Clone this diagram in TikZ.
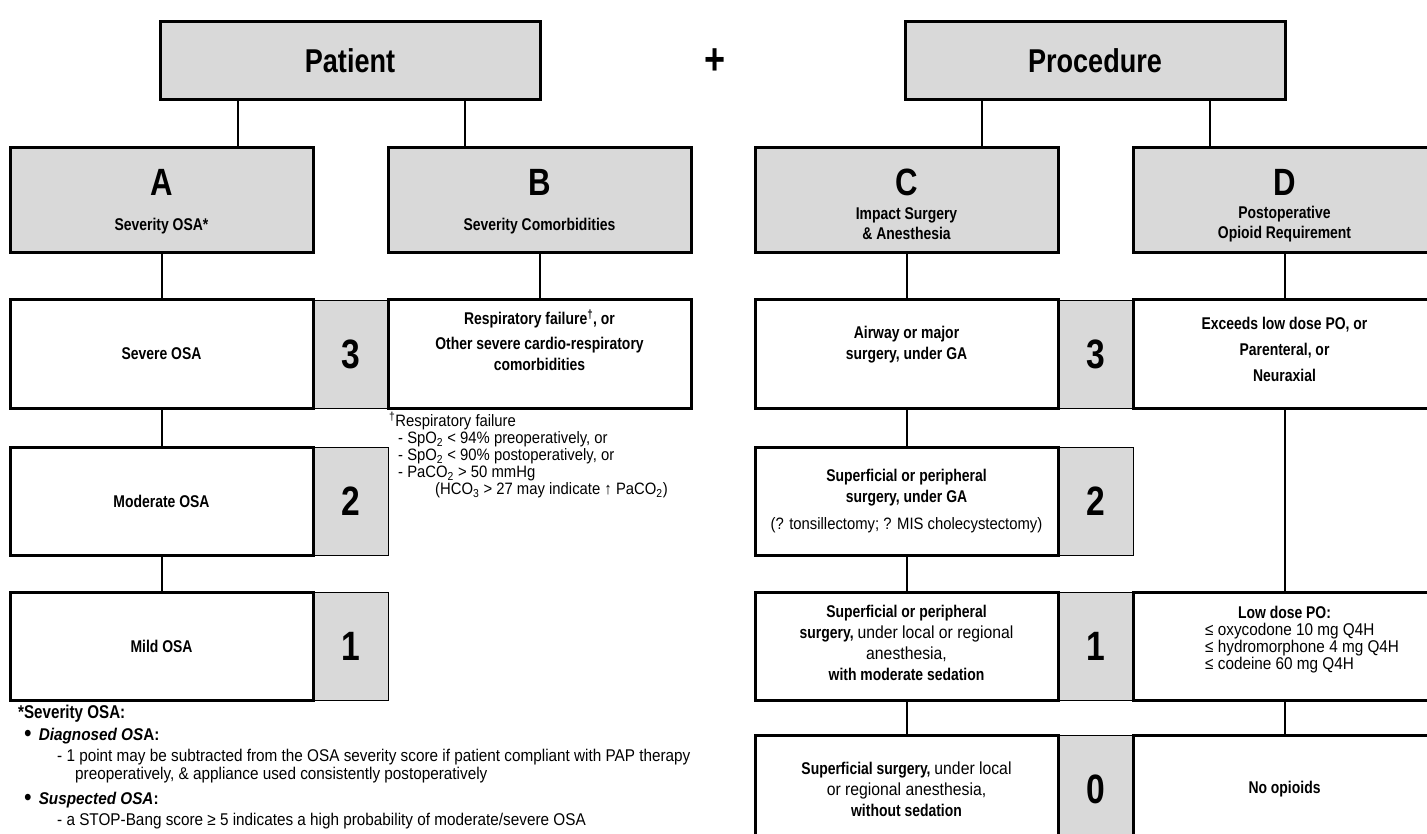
\documentclass[tikz,border=0pt]{standalone}
\usepackage{fontspec}
\setmainfont{Liberation Sans}[FakeStretch=0.82]
\newfontfamily\notefont{Liberation Sans}[FakeStretch=0.9]
\usetikzlibrary{calc}

\colorlet{boxgray}{black!15}
\newcommand{\regtext}[1]{{\notefont\mdseries\fontsize{17.5}{21}\selectfont #1}}
\newcommand{\bigdot}{\raisebox{-1.5pt}{\fontsize{24}{24}\selectfont •}}

\tikzset{
  topbox/.style={draw, line width=3pt, fill=boxgray, outer sep=0pt, anchor=north west,
    minimum width=380pt, minimum height=78pt, font=\bfseries\fontsize{33}{33}\selectfont},
  hdrbox/.style={draw, line width=3pt, fill=boxgray, outer sep=0pt, anchor=north west,
    minimum width=303pt, minimum height=105pt},
  cellbox/.style={draw, line width=3pt, fill=white, outer sep=0pt, anchor=north west,
    minimum width=303pt, minimum height=108pt, inner sep=0pt, align=center,
    font=\bfseries\fontsize{17}{21}\selectfont},
  scorebox/.style={draw, line width=0.8pt, fill=boxgray, outer sep=0pt, anchor=north west,
    minimum width=75pt, minimum height=108pt, inner sep=0pt,
    font=\bfseries\fontsize{41}{41}\selectfont},
  letter/.style={inner sep=0pt, font=\bfseries\fontsize{38}{38}\selectfont},
  hdrtext/.style={inner sep=0pt, align=center, font=\bfseries\fontsize{17}{20}\selectfont},
  note/.style={anchor=base west, inner sep=0pt, font=\notefont\fontsize{17}{19}\selectfont},
  link/.style={line width=2pt},
}

\begin{document}
\begin{tikzpicture}[x=1pt, y=-1pt]
  % --- Lienzo ---
  \useasboundingbox (0,0) rectangle (1427,834);
  \fill[white] (0,0) rectangle (1427,834);

  % --- Cabeceras superiores ---
  \node[topbox] (patient) at (160,22) {Patient};
  \node[font=\bfseries\fontsize{44}{44}\selectfont, inner sep=0pt] (plus) at (715,62) {+};
  \node[topbox] (procedure) at (905,22) {Procedure};

  % --- Cabeceras A, B, C, D ---
  \node[hdrbox] (hdrA) at (10,148) {};
  \node[hdrbox] (hdrB) at (388,148) {};
  \node[hdrbox] (hdrC) at (755,148) {};
  \node[hdrbox] (hdrD) at (1133,148) {};
  \node[letter] (letA) at (161.5,182) {A};
  \node[letter] (letB) at (539.5,182) {B};
  \node[letter] (letC) at (906.5,182) {C};
  \node[letter] (letD) at (1284.5,182) {D};
  \node[hdrtext] (subA) at (161.5,226) {Severity OSA*};
  \node[hdrtext] (subB) at (539.5,226) {Severity Comorbidities};
  \node[hdrtext] (subC) at (906.5,224) {Impact Surgery\\ \& Anesthesia};
  \node[hdrtext] (subD) at (1284.5,224) {Postoperative\\ Opioid Requirement};

  % Uniones cabecera -> columnas
  \coordinate (pA) at ([xshift=78pt]patient.south west);
  \coordinate (pB) at ([xshift=305pt]patient.south west);
  \coordinate (qC) at ([xshift=77pt]procedure.south west);
  \coordinate (qD) at ([xshift=305pt]procedure.south west);
  \draw[link] (pA) -- (pA |- hdrA.north);
  \draw[link] (pB) -- (pB |- hdrB.north);
  \draw[link] (qC) -- (qC |- hdrC.north);
  \draw[link] (qD) -- (qD |- hdrD.north);

  % --- Puntuaciones (gris, debajo de los bordes gruesos) ---
  \node[scorebox] (sa1) at (313,300) {3};
  \node[scorebox] (sa2) at (313,447) {2};
  \node[scorebox] (sa3) at (313,592) {1};
  \node[scorebox] (sc1) at (1058,300) {3};
  \node[scorebox] (sc2) at (1058,447) {2};
  \node[scorebox] (sc3) at (1058,592) {1};
  \node[scorebox] (sc4) at (1058,735) {0};

  % --- Columna A y B ---
  \node[cellbox] (a1) at (10,300) {Severe OSA};
  \node[cellbox] (a2) at (10,447) {Moderate OSA};
  \node[cellbox] (a3) at (10,592) {Mild OSA};
  \node[cellbox] (b1) at (388,300) {Respiratory failure\textsuperscript{†}, or\\[4pt]
    Other severe cardio-respiratory\\ comorbidities\\[6pt]};

  % --- Columna C y D ---
  \node[cellbox] (c1) at (755,300) {Airway or major\\ surgery, under GA\\[2pt]};
  \node[cellbox] (c2) at (755,447) {Superficial or peripheral\\ surgery, under GA\\[6pt]
    {\notefont\mdseries\fontsize{16.5}{18}\selectfont (? tonsillectomy; ? MIS cholecystectomy)}};
  \node[cellbox] (c3) at (755,592) {Superficial or peripheral\\
    surgery, \regtext{under local or regional}\\ \regtext{anesthesia,}\\ with moderate sedation\\[-14pt]};
  \node[cellbox] (c4) at (755,735) {Superficial surgery, \regtext{under local}\\
    \regtext{or regional anesthesia,}\\ without sedation};
  \node[cellbox] (d1) at (1133,300) {Exceeds low dose PO, or\\[5pt] Parenteral, or\\[5pt] Neuraxial\\[-12pt]};
  \node[cellbox] (d3) at (1133,592) {};
  \node[cellbox] (d4) at (1133,735) {No opioids};
  \node[hdrtext] (d3head) at (1284.5,612) {Low dose PO:};
  \node[anchor=north west, align=left, inner sep=0pt, font=\notefont\fontsize{17}{17}\selectfont]
    (d3list) at (1205,623) {≤ oxycodone 10 mg Q4H\\ ≤ hydromorphone 4 mg Q4H\\ ≤ codeine 60 mg Q4H};

  % --- Conectores verticales ---
  \draw[link] (hdrA) -- (a1);
  \draw[link] (a1) -- (a2);
  \draw[link] (a2) -- (a3);
  \draw[link] (hdrB) -- (b1);
  \draw[link] (hdrC) -- (c1);
  \draw[link] (c1) -- (c2);
  \draw[link] (c2) -- (c3);
  \draw[link] (c3) -- (c4);
  \draw[link] (hdrD) -- (d1);
  \draw[link] (d1) -- (d3);
  \draw[link] (d3) -- (d4);

  % --- Nota de insuficiencia respiratoria ---
  \node[anchor=north west, align=left, inner sep=0pt, font=\notefont\fontsize{16.5}{17}\selectfont]
    (dagnote) at (389,412) {\textsuperscript{†}Respiratory failure\\
    \hspace*{9pt}- SpO\textsubscript{2} < 94\% preoperatively, or\\
    \hspace*{9pt}- SpO\textsubscript{2} < 90\% postoperatively, or\\
    \hspace*{9pt}- PaCO\textsubscript{2} > 50 mmHg\\
    \hspace*{46pt}(HCO\textsubscript{3} > 27 may indicate ↑ PaCO\textsubscript{2})};

  % --- Nota de severidad OSA ---
  \node[note, font=\bfseries\fontsize{18.5}{20}\selectfont] (fnhead) at (18,718) {*Severity OSA:};
  \node[note] (fndiag) at (24,740) {\bigdot\hspace{7pt}\textbf{\textit{Diagnosed OS}A:}};
  \node[note] (fndiag1) at (57,761) {- 1 point may be subtracted from the OSA severity score if patient compliant with PAP therapy};
  \node[note] (fndiag2) at (75,779) {preoperatively, \& appliance used consistently postoperatively};
  \node[note] (fnsusp) at (24,804) {\bigdot\hspace{7pt}\textbf{\textit{Suspected OSA}:}};
  \node[note] (fnsusp1) at (57,825) {- a STOP-Bang score ≥ 5 indicates a high probability of moderate/severe OSA};
\end{tikzpicture}
\end{document}
